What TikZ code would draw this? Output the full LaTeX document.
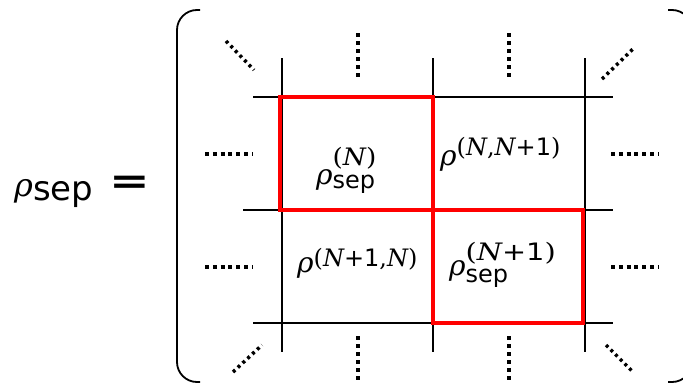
\documentclass[tikz,border=0pt]{standalone}
\usepackage{fontspec}
\setsansfont{DejaVu Sans}
\newfontfamily\mf{DejaVu Serif}
\newcommand{\fsz}[1]{\fontsize{#1}{#1}\selectfont}
\newcommand{\R}[1]{{\fsz{#1}\mf\itshape ρ}}
\newcommand{\N}{{\itshape N}}
% \lab{rho size}{sup raise}{sup}{sub lower}{sub}
\newcommand{\lab}[5]{\R{#1}\raisebox{#2}{\rlap{\fsz{24}\mf #3}}\raisebox{-#4}{\fsz{24}\sffamily #5}}
\newcommand{\PO}{{\sffamily +1}}
\begin{document}
\begin{tikzpicture}[x=1pt,y=-1pt,
  gridline/.style={line width=1.6pt,black},
  redbox/.style={line width=4.5pt,red},
  bracket/.style={line width=1.8pt,black,rounded corners=20pt},
  vdots/.style={line width=4pt,dash pattern=on 4pt off 4pt},
  hdots/.style={line width=4pt,dash pattern=on 4pt off 3.8pt},
  ddots/.style={line width=3.5pt,dash pattern=on 3pt off 3.6pt},
  lbl/.style={inner sep=0pt,anchor=base west}]
\useasboundingbox (0,0) rectangle (683,383);
\clip (0,0) rectangle (683,383);
% brackets
\draw[bracket] (200,10) -- (177,10) -- (177,382) -- (200,382);
\draw[bracket] (668,10) -- (692,10) -- (692,382) -- (668,382);
% grid
\draw[gridline] (253,97) -- (613,97);
\draw[gridline] (243,210) -- (613,210);
\draw[gridline] (253,323) -- (613,323);
\draw[gridline] (282,58) -- (282,352);
\draw[gridline] (433,58) -- (433,352);
\draw[gridline] (585,58) -- (585,352);
% red boxes
\draw[redbox] (280,97) rectangle (433,210);
\draw[redbox] (433,210) rectangle (583,323);
% dots
\draw[vdots] (358,33) -- (358,80);
\draw[vdots] (509,33) -- (509,80);
\draw[vdots] (358,336) -- (358,390);
\draw[vdots] (509,336) -- (509,390);
\draw[hdots] (205,154) -- (253,154);
\draw[hdots] (611,154) -- (659,154);
\draw[hdots] (205,267) -- (253,267);
\draw[hdots] (611,267) -- (659,267);
\draw[ddots] (226,41) -- (254,70);
\draw[ddots] (602,79) -- (634,48);
\draw[ddots] (233,372) -- (262,345);
\draw[ddots] (606,345) -- (633,372);
% labels
\node[lbl] (lhs) at (14,196) {\R{32}\raisebox{-4pt}{\fsz{34}\sffamily sep}};
\node[inner sep=0pt] (eq) at (130,185) {\fsz{36}\scalebox{1.35}[1]{\sffamily\bfseries =}};
\node[lbl] (a) at (316,184) {\lab{28}{19pt}{\scalebox{1.1}[1]{(\N)}}{4pt}{sep}};
\node[lbl] (b) at (440,165) {\R{28}\raisebox{10pt}{\fsz{24}\mf(\N,\N\PO)}};
\node[lbl] (c) at (297,272) {\R{28}\raisebox{6pt}{\fsz{24}\mf(\N\PO,\N)}};
\node[lbl] (d) at (449,275) {\lab{28}{15pt}{\scalebox{1.2}[1]{(\N\PO)}}{7pt}{sep}};
\end{tikzpicture}
\end{document}
